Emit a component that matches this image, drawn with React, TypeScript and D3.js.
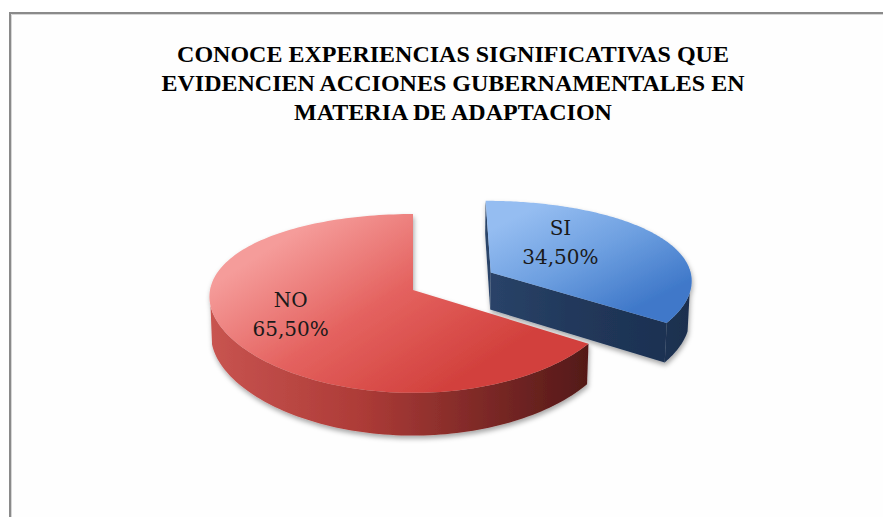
import React from 'react';
import * as d3 from 'd3';

// ---- data ----
const categories = ['SI', 'NO'];
const values = [34.5, 65.5];
const valueLabels = ['34,50%', '65,50%'];
const titleLines = [
  'CONOCE EXPERIENCIAS SIGNIFICATIVAS QUE',
  'EVIDENCIEN ACCIONES GUBERNAMENTALES EN',
  'MATERIA DE ADAPTACION',
];
const explodeFraction = [0.44, 0];

// ---- layout / style constants ----
const W = 883;
const H = 517;
const CX = 413;
const CY = 290;
const FOCAL = 1218;
const DIST = 6;
const ELEV = (25.5 * Math.PI) / 180;
const THICK = 0.21;
const X_PERSP = 0.5;
const LABEL_R = [0.4, 0.65];
const LABEL_NUDGE = [
  [1, -15],
  [-3, -3],
];
const TOP_COLORS = [
  ['#95bdf1', '#6d9fe0', '#3f78c9'],
  ['#f59c9a', '#e4625f', '#d2413d'],
];
const SIDE_COLORS = [
  ['#2a4469', '#22395c', '#1b2f4f'],
  ['#c85450', '#ad3b37', '#531918'],
];

type V3 = [number, number, number];

function proj(p: V3): [number, number] {
  const [x, y, z] = p;
  const yc = y * Math.cos(ELEV) - z * Math.sin(ELEV);
  const zc = DIST - (z * Math.cos(ELEV) + y * Math.sin(ELEV));
  const xs = (FOCAL / DIST) * x * Math.pow(DIST / zc, X_PERSP);
  return [CX + xs, CY - (FOCAL * yc) / zc];
}

const CAM: V3 = [0, DIST * Math.sin(ELEV), DIST * Math.cos(ELEV)];
function facing(n: V3, p: V3) {
  return n[0] * (CAM[0] - p[0]) + n[1] * (CAM[1] - p[1]) + n[2] * (CAM[2] - p[2]) > 0;
}

const line = d3.line<[number, number]>();
const poly = (pts: [number, number][]) => (line(pts) || '') + 'Z';

export default function App() {
  const pie = d3.pie<number>().sort(null).value((d) => d);
  const arcs = pie(values);

  const slices = arcs.map((a, i) => {
    const a1 = a.startAngle;
    const a2 = a.endAngle;
    const mid = (a1 + a2) / 2;
    const ex = explodeFraction[i];
    const ox = ex * Math.sin(mid);
    const oz = -ex * Math.cos(mid);
    const pt = (t: number, r: number, y: number): V3 => [ox + r * Math.sin(t), y, oz - r * Math.cos(t)];

    const N = 160;
    const steps = d3.range(N + 1).map((k) => a1 + ((a2 - a1) * k) / N);
    const topPts: [number, number][] = [proj(pt(0, 0, 0)), ...steps.map((t) => proj(pt(t, 1, 0)))];

    const radial: { d: string; pts: [number, number][] }[] = [];
    const radialDefs: [number, number][] = [
      [a1, a1 - Math.PI / 2],
      [a2, a2 + Math.PI / 2],
    ];
    radialDefs.forEach(([t, nt]) => {
      const n: V3 = [Math.sin(nt), 0, -Math.cos(nt)];
      const pm = pt(t, 0.5, -THICK / 2);
      if (facing(n, pm)) {
        const pts: [number, number][] = [
          proj(pt(0, 0, 0)),
          proj(pt(t, 1, 0)),
          proj(pt(t, 1, -THICK)),
          proj(pt(0, 0, -THICK)),
        ];
        radial.push({ d: poly(pts), pts });
      }
    });

    const walls: { d: string; pts: [number, number][] }[] = [];
    let run: number[] = [];
    const flush = () => {
      if (run.length > 1) {
        const topE = run.map((t) => proj(pt(t, 1, 0)));
        const botE = run.map((t) => proj(pt(t, 1, -THICK))).reverse();
        const pts = [...topE, ...botE];
        walls.push({ d: poly(pts), pts });
      }
      run = [];
    };
    for (let k = 0; k < N; k++) {
      const t0 = steps[k];
      const t1 = steps[k + 1];
      const tm = (t0 + t1) / 2;
      const n: V3 = [Math.sin(tm), 0, -Math.cos(tm)];
      if (facing(n, pt(tm, 1, -THICK / 2))) {
        if (run.length === 0) run.push(t0);
        run.push(t1);
      } else flush();
    }
    flush();

    const depth = oz - 0.5 * Math.cos(mid);
    const lp = proj(pt(mid, LABEL_R[i], 0));
    const label: [number, number] = [lp[0] + LABEL_NUDGE[i][0], lp[1] + LABEL_NUDGE[i][1]];
    return { i, topPts, top: poly(topPts), radial, walls, depth, label };
  });

  const order = [...slices].sort((a, b) => a.depth - b.depth);
  const sideAll = (s: (typeof slices)[number]) => [...s.radial, ...s.walls].flatMap((f) => f.pts);

  return (
    <svg
      width={W}
      height={H}
      viewBox={`0 0 ${W} ${H}`}
      style={{ position: 'absolute', left: 0, top: 0, background: '#fff' }}
    >
      <defs>
        <filter id="shadow" x="-20%" y="-20%" width="140%" height="150%">
          <feDropShadow dx="1" dy="3" stdDeviation="2.5" floodColor="#000" floodOpacity="0.35" />
        </filter>
        {slices.map((s) => {
          const xs = d3.extent(s.topPts, (p) => p[0]) as [number, number];
          const ys = d3.extent(s.topPts, (p) => p[1]) as [number, number];
          const sp = sideAll(s);
          const sx = sp.length ? (d3.extent(sp, (p) => p[0]) as [number, number]) : xs;
          const c = TOP_COLORS[s.i];
          const sc = SIDE_COLORS[s.i];
          return (
            <React.Fragment key={s.i}>
              <linearGradient
                id={`top${s.i}`}
                gradientUnits="userSpaceOnUse"
                x1={xs[0] + (xs[1] - xs[0]) * 0.3}
                y1={ys[0]}
                x2={xs[0] + (xs[1] - xs[0]) * 0.6}
                y2={ys[1]}
              >
                <stop offset="0" stopColor={c[0]} />
                <stop offset="0.5" stopColor={c[1]} />
                <stop offset="1" stopColor={c[2]} />
              </linearGradient>
              <linearGradient id={`side${s.i}`} gradientUnits="userSpaceOnUse" x1={sx[0]} y1={0} x2={sx[1]} y2={0}>
                <stop offset="0" stopColor={sc[0]} />
                <stop offset="0.4" stopColor={sc[1]} />
                <stop offset="1" stopColor={sc[2]} />
              </linearGradient>
            </React.Fragment>
          );
        })}
      </defs>

      <rect x={0} y={0} width={W} height={H} fill="#ffffff" />
      <rect x={10} y={13} width={W + 40} height={H + 40} fill="#fefefe" stroke="#8a8a8a" strokeWidth={2} />
      <path d={`M11.5,${H} V14.5 H${W}`} fill="none" stroke="#d6d6d6" strokeWidth={1} />

      <g fontFamily="'Liberation Serif', 'Times New Roman', serif" fontWeight="bold" fontSize={24} fill="#000" textAnchor="middle">
        {titleLines.map((t, k) => (
          <text key={k} x={453} y={62 + k * 29}>
            {t}
          </text>
        ))}
      </g>

      {order.map((s) => (
        <g key={s.i} filter="url(#shadow)">
          {s.radial.map((f, k) => (
            <path key={`r${k}`} d={f.d} fill={`url(#side${s.i})`} />
          ))}
          {s.walls.map((f, k) => (
            <path key={`w${k}`} d={f.d} fill={`url(#side${s.i})`} />
          ))}
          <path d={s.top} fill={`url(#top${s.i})`} />
        </g>
      ))}

      <g fontFamily="'DejaVu Serif', serif" fontSize={20} fill="#1a1a1a" textAnchor="middle">
        {slices.map((s) => (
          <React.Fragment key={s.i}>
            <text x={s.label[0]} y={s.label[1] - 14.5 + 7}>
              {categories[s.i]}
            </text>
            <text x={s.label[0]} y={s.label[1] + 14.5 + 7}>
              {valueLabels[s.i]}
            </text>
          </React.Fragment>
        ))}
      </g>
    </svg>
  );
}
